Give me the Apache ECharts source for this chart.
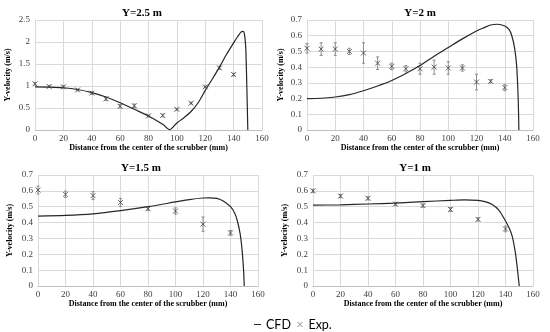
<!DOCTYPE html>
<html><head><meta charset="utf-8">
<script src="https://cdn.jsdelivr.net/npm/echarts@6/dist/echarts.min.js"></script>
<style>html,body{margin:0;padding:0;background:#fff}#c{width:550px;height:332px}</style>
</head><body><div id="c"></div>
<script>
const titles = ['Y=2.5 m', 'Y=2 m', 'Y=1.5 m', 'Y=1 m'];
const xName = 'Distance from the center of the scrubber (mm)';
const yName = 'Y-velocity (m/s)';
const yMax = [2.5, 0.7, 0.7, 0.7];
const yStep = [0.5, 0.1, 0.1, 0.1];

// CFD curves
const cfdX25 = [0, 10, 20, 30, 40, 50, 60, 70, 80, 90, 95, 100, 105, 110, 115, 120, 125, 130, 135, 140, 143, 145, 146.5, 147.5, 148.5, 149.3, 150];
const cfdY25 = [0.98, 0.975, 0.96, 0.92, 0.85, 0.75, 0.62, 0.47, 0.32, 0.13, 0.01, 0.16, 0.28, 0.42, 0.62, 0.9, 1.16, 1.43, 1.72, 1.98, 2.13, 2.22, 2.24, 2.2, 1.9, 1.0, 0];
const cfdX2 = [0, 10, 20, 30, 40, 50, 60, 70, 80, 90, 100, 110, 120, 125, 130, 135, 140, 143, 145, 147, 148.5, 149.5, 150];
const cfdY2 = [0.2, 0.202, 0.21, 0.225, 0.25, 0.28, 0.315, 0.36, 0.41, 0.47, 0.525, 0.58, 0.63, 0.65, 0.668, 0.673, 0.662, 0.64, 0.6, 0.52, 0.4, 0.2, 0];
const cfdX15 = [0, 20, 40, 60, 80, 100, 110, 120, 125, 130, 135, 140, 143, 145, 147, 148.5, 149.5, 150];
const cfdY15 = [0.441, 0.445, 0.455, 0.475, 0.5, 0.53, 0.545, 0.555, 0.556, 0.553, 0.535, 0.5, 0.46, 0.41, 0.33, 0.22, 0.1, 0];
const cfdX1 = [0, 20, 40, 60, 80, 100, 110, 120, 125, 130, 135, 140, 143, 145, 147, 148.5, 150];
const cfdY1 = [0.51, 0.512, 0.517, 0.523, 0.532, 0.54, 0.543, 0.54, 0.532, 0.515, 0.48, 0.41, 0.36, 0.31, 0.22, 0.12, 0];

// Experimental points
const expX25 = [0, 10, 20, 30, 40, 50, 60, 70, 80, 90, 100, 110, 120, 130, 140];
const expY25 = [1.05, 0.99, 0.98, 0.91, 0.84, 0.71, 0.54, 0.55, 0.32, 0.33, 0.47, 0.61, 0.98, 1.41, 1.26];
const expE25 = [0.03, 0.02, 0.03, 0.02, 0.03, 0.04, 0.04, 0.04, 0.02, 0.03, 0.02, 0.02, 0.02, 0.03, 0.03];
const expX2 = [0, 10, 20, 30, 40, 50, 60, 70, 80, 90, 100, 110, 120, 130, 140];
const expY2 = [0.52, 0.515, 0.515, 0.5, 0.49, 0.425, 0.405, 0.39, 0.39, 0.4, 0.395, 0.395, 0.305, 0.31, 0.27];
const expE2 = [0.03, 0.04, 0.04, 0.02, 0.065, 0.04, 0.02, 0.02, 0.035, 0.045, 0.04, 0.02, 0.05, 0.01, 0.02];
const expX15 = [0, 20, 40, 60, 80, 100, 120, 140];
const expY15 = [0.605, 0.578, 0.57, 0.527, 0.487, 0.473, 0.39, 0.335];
const expE15 = [0.025, 0.02, 0.025, 0.025, 0.01, 0.02, 0.045, 0.015];
const expX1 = [0, 20, 40, 60, 80, 100, 120, 140];
const expY1 = [0.6, 0.567, 0.553, 0.517, 0.507, 0.483, 0.42, 0.36];
const expE1 = [0.01, 0.01, 0.01, 0.01, 0.01, 0.012, 0.01, 0.018];

const cfdX = [cfdX25, cfdX2, cfdX15, cfdX1];
const cfdY = [cfdY25, cfdY2, cfdY15, cfdY1];
const expX = [expX25, expX2, expX15, expX1];
const expY = [expY25, expY2, expY15, expY1];
const expE = [expE25, expE2, expE15, expE1];

const grids = [
  {left: 35, top: 20, width: 227, height: 110},
  {left: 307, top: 20, width: 226, height: 110},
  {left: 38, top: 175, width: 220, height: 111},
  {left: 313, top: 175, width: 220, height: 111}
];
const titlePos = [[137, 3], [415, 3], [136, 158], [410, 158]];
const yNameGap = [23, 22, 24, 24];

const serif = 'Liberation Serif';
const gridColor = '#d9d9d9';
const labelColor = '#404040';

function errRender(params, api) {
  const x = api.value(0), y = api.value(1), e = api.value(2);
  const p1 = api.coord([x, y + e]), p2 = api.coord([x, y - e]);
  const s = {stroke: '#8c8c8c', lineWidth: 1};
  return {type: 'group', children: [
    {type: 'line', shape: {x1: p1[0], y1: p1[1], x2: p2[0], y2: p2[1]}, style: s},
    {type: 'line', shape: {x1: p1[0] - 1.5, y1: p1[1], x2: p1[0] + 1.5, y2: p1[1]}, style: s},
    {type: 'line', shape: {x1: p2[0] - 1.5, y1: p2[1], x2: p2[0] + 1.5, y2: p2[1]}, style: s}
  ]};
}

const xAxes = [], yAxes = [], series = [], titleArr = [];
for (let i = 0; i < 4; i++) {
  titleArr.push({text: titles[i], left: titlePos[i][0], top: titlePos[i][1], textAlign: 'center',
    textStyle: {fontFamily: serif, fontWeight: 'bold', fontSize: 11, color: '#000'}});
  xAxes.push({type: 'value', gridIndex: i, min: 0, max: 160, interval: 20,
    name: xName, nameLocation: 'middle', nameGap: 14,
    nameTextStyle: {fontFamily: serif, fontWeight: 'bold', fontSize: 8, color: '#000'},
    axisLine: {show: true, lineStyle: {color: '#bfbfbf'}}, axisTick: {show: false},
    axisLabel: {fontFamily: serif, fontSize: 9, color: labelColor, margin: 4},
    splitLine: {show: true, lineStyle: {color: gridColor, width: 1}}});
  yAxes.push({type: 'value', gridIndex: i, min: 0, max: yMax[i], interval: yStep[i],
    name: yName, nameLocation: 'middle', nameGap: yNameGap[i],
    nameTextStyle: {fontFamily: serif, fontWeight: 'bold', fontSize: 8, color: '#000'},
    axisLine: {show: false}, axisTick: {show: false},
    axisLabel: {fontFamily: serif, fontSize: 9, color: labelColor, margin: 5},
    splitLine: {show: true, lineStyle: {color: gridColor, width: 1}}});
  series.push({name: 'CFD', type: 'line', xAxisIndex: i, yAxisIndex: i,
    data: cfdX[i].map((x, k) => [x, cfdY[i][k]]),
    symbol: 'none', smooth: 0.3,
    lineStyle: {color: '#262626', width: 1.2}, itemStyle: {color: '#262626'}, z: 3});
  series.push({name: 'Exp.', type: 'custom', xAxisIndex: i, yAxisIndex: i,
    data: expX[i].map((x, k) => [x, expY[i][k], expE[i][k]]),
    encode: {x: 0, y: 1}, renderItem: errRender, silent: true, z: 2});
  series.push({name: 'Exp.', type: 'scatter', xAxisIndex: i, yAxisIndex: i,
    data: expX[i].map((x, k) => [x, expY[i][k]]),
    symbol: 'path://M0,0L10,10M10,0L0,10', symbolSize: 5,
    itemStyle: {color: 'rgba(0,0,0,0)', borderColor: '#404040', borderWidth: 1}, z: 4});
}

const chart = echarts.init(document.getElementById('c'), null, {renderer: 'canvas'});
chart.setOption({
  animation: false,
  backgroundColor: '#fff',
  title: titleArr,
  grid: grids,
  xAxis: xAxes,
  yAxis: yAxes,
  legend: {
    data: [
      {name: 'CFD', icon: 'path://M0,0H10V1.4H0Z', itemStyle: {color: '#262626'}},
      {name: 'Exp.', icon: 'path://M0,0L10,10M10,0L0,10', itemStyle: {color: 'rgba(0,0,0,0)', borderColor: '#8c8c8c', borderWidth: 1}}
    ],
    left: 249, top: 313, itemWidth: 7, itemHeight: 5, itemGap: 6, symbolKeepAspect: true,
    textStyle: {fontFamily: 'Lato', fontSize: 12.5, color: '#000'}},
  series: series
});
</script></body></html>
